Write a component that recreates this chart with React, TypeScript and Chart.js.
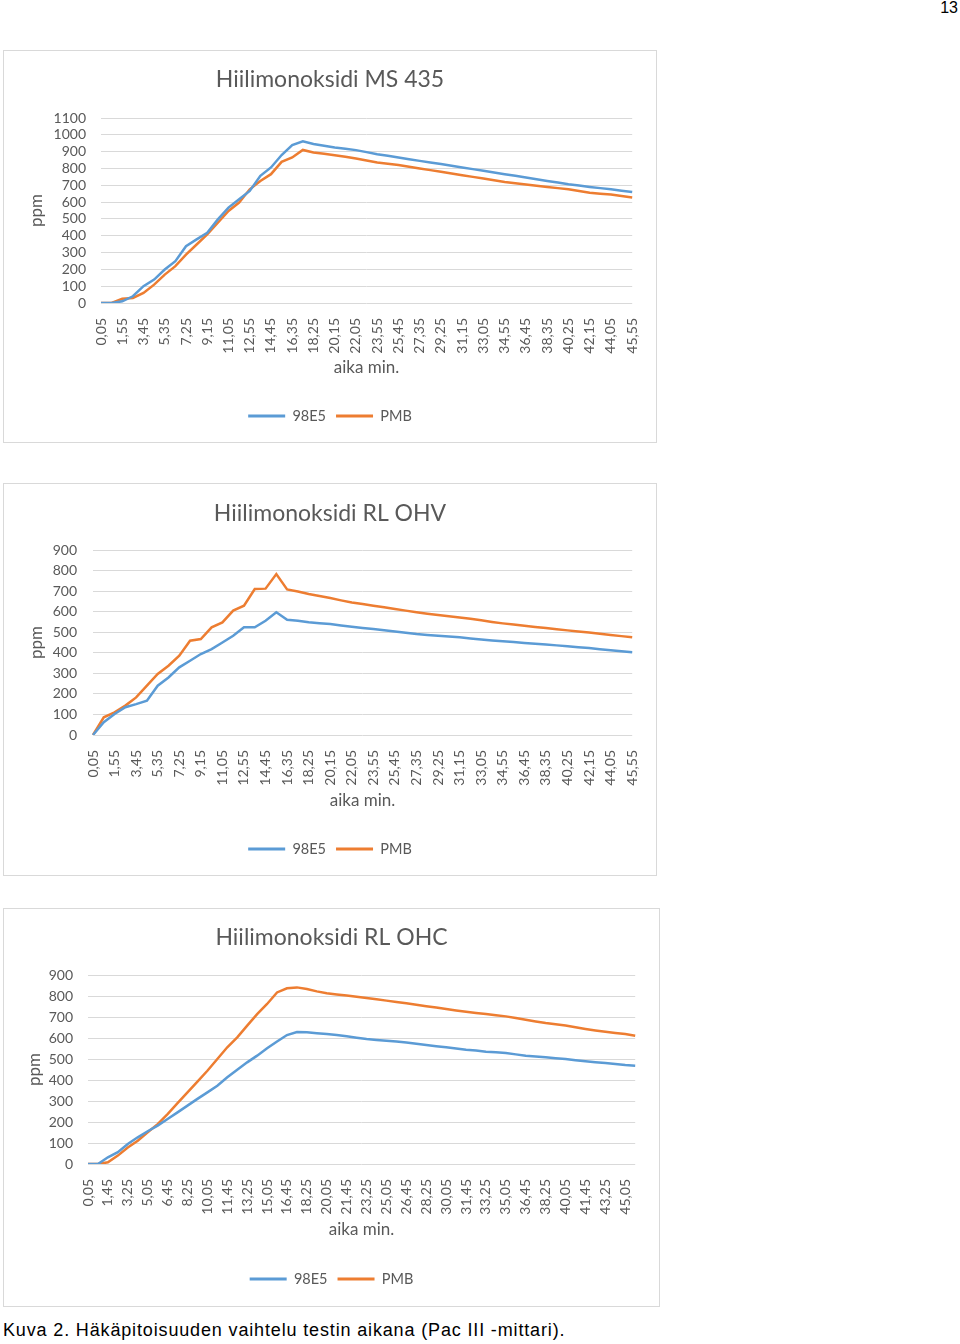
import React, { useEffect, useRef } from "react";
import { Chart, registerables } from "chart.js";

Chart.register(...registerables);

const FONT = "Lato, 'Open Sans', sans-serif";
const TEXT = "#595959";
const GRID = "#D9D9D9";
const BLUE = "#5B9BD5";
const ORANGE = "#ED7D31";
const SERIES_NAMES = ["98E5", "PMB"];
const X_TITLE = "aika min.";
const Y_TITLE = "ppm";
const PAGE_NUMBER = "13";
const CAPTION = "Kuva 2. Häkäpitoisuuden vaihtelu testin aikana (Pac III -mittari).";

// time labels (min,s), sampled every 55 s for charts 1 and 2
const timesA = [
  "0,05", "1,00", "1,55", "2,50", "3,45", "4,40", "5,35", "6,30", "7,25", "8,20",
  "9,15", "10,10", "11,05", "12,00", "12,55", "13,50", "14,45", "15,40", "16,35", "17,30",
  "18,25", "19,20", "20,15", "21,10", "22,05", "23,00", "23,55", "24,50", "25,45", "26,40",
  "27,35", "28,30", "29,25", "30,20", "31,15", "32,10", "33,05", "34,00", "34,55", "35,50",
  "36,45", "37,40", "38,35", "39,30", "40,25", "41,20", "42,15", "43,10", "44,05", "45,00",
  "45,55",
];

// time labels sampled every 50 s for chart 3
const timesC = [
  "0,05", "0,55", "1,45", "2,35", "3,25", "4,15", "5,05", "5,55", "6,45", "7,35",
  "8,25", "9,15", "10,05", "10,55", "11,45", "12,35", "13,25", "14,15", "15,05", "15,55",
  "16,45", "17,35", "18,25", "19,15", "20,05", "20,55", "21,45", "22,35", "23,25", "24,15",
  "25,05", "25,55", "26,45", "27,35", "28,25", "29,15", "30,05", "30,55", "31,45", "32,35",
  "33,25", "34,15", "35,05", "35,55", "36,45", "37,35", "38,25", "39,15", "40,05", "40,55",
  "41,45", "42,35", "43,25", "44,15", "45,05", "45,55",
];

// Hiilimonoksidi MS 435
const ms435_98E5 = [
  0, 0, 10, 40, 100, 139, 199, 249, 338, 378,
  418, 497, 567, 617, 666, 756, 806, 880, 939, 962,
  945, 935, 925, 917, 909, 897, 885, 875, 865, 855,
  845, 836, 826, 816, 806, 796, 786, 776, 766, 756,
  746, 736, 726, 716, 706, 698, 690, 683, 676, 668,
  660,
];
const ms435_PMB = [
  0, 0, 25, 30, 60, 109, 169, 219, 288, 348,
  408, 477, 547, 597, 676, 726, 766, 839, 865, 910,
  895, 887, 879, 869, 859, 847, 835, 828, 820, 810,
  800, 790, 780, 770, 760, 750, 740, 730, 720, 712,
  704, 697, 690, 683, 676, 666, 656, 650, 645, 636,
  627,
];

// Hiilimonoksidi RL OHV
const ohv_98E5 = [
  0, 62, 102, 135, 150, 167, 240, 280, 329, 361,
  394, 418, 450, 483, 524, 524, 556, 597, 561, 556,
  548, 544, 540, 533, 527, 521, 516, 510, 504, 497,
  491, 487, 483, 479, 475, 470, 465, 460, 456, 452,
  448, 444, 440, 436, 432, 427, 423, 417, 412, 407,
  402,
];
const ohv_PMB = [
  0, 86, 110, 143, 183, 240, 297, 337, 386, 459,
  467, 524, 548, 605, 629, 710, 712, 783, 708, 698,
  686, 676, 666, 655, 645, 637, 629, 621, 613, 605,
  597, 590, 584, 578, 572, 565, 558, 550, 543, 537,
  531, 525, 520, 515, 509, 504, 499, 493, 487, 481,
  475,
];

// Hiilimonoksidi RL OHC
const ohc_98E5 = [
  0, 0, 32, 56, 95, 127, 156, 183, 214, 246,
  278, 310, 341, 373, 413, 449, 484, 516, 551, 583,
  614, 628, 627, 623, 619, 614, 608, 601, 595, 591,
  587, 583, 579, 573, 567, 561, 556, 550, 544, 540,
  535, 532, 529, 522, 516, 512, 508, 504, 500, 494,
  489, 485, 481, 476, 471, 468,
];
const ohc_PMB = [
  0, 0, 8, 40, 79, 111, 151, 190, 238, 290,
  341, 392, 444, 500, 556, 603, 659, 714, 762, 817,
  837, 841, 833, 822, 813, 807, 802, 796, 790, 784,
  778, 771, 765, 758, 751, 745, 738, 731, 725, 719,
  714, 708, 703, 695, 687, 679, 671, 665, 659, 651,
  643, 636, 630, 624, 619, 611,
];

type Spec = {
  title: string;
  labels: string[];
  a: number[];
  b: number[];
  yMax: number;
  // layout in page pixels
  left: number;
  top: number;
  width: number;
  height: number;
  plotLeft: number;
  plotRight: number;
  plotTop: number;
  plotBottom: number;
  titleY: number;
  yTitleX: number;
  xTitleY: number;
  legendY: number;
  tickPad: number;
};

function LineChart({ s }: { s: Spec }) {
  const ref = useRef<HTMLCanvasElement | null>(null);
  useEffect(() => {
    if (!ref.current) return;
    const W = s.width - 2;
    const H = s.height - 2;
    const ox = s.left + 1;
    const oy = s.top + 1;
    const pl = s.plotLeft - ox;
    const pr = s.plotRight - ox;
    const pt = s.plotTop - oy;
    const pb = s.plotBottom - oy;
    const titleC = s.titleY - oy;
    const xTitleC = s.xTitleY - oy;
    const legendC = s.legendY - oy;
    const side = W - pr;
    const titleSize = 23;
    const titleLH = titleSize * 1.2;
    const legendFont = 14.5;
    const legendPad = 10;
    const legendTop = legendC - legendPad - legendFont / 2;
    const legendH = legendFont + legendPad + 10;
    const axisTitleSize = 17;
    const axisTitleLH = axisTitleSize * 1.2;

    const chart = new Chart(ref.current, {
      type: "line",
      data: {
        labels: s.labels,
        datasets: [
          {
            label: SERIES_NAMES[0],
            data: s.a,
            borderColor: BLUE,
            backgroundColor: BLUE,
            borderWidth: 2.5,
            pointRadius: 0,
            tension: 0,
          },
          {
            label: SERIES_NAMES[1],
            data: s.b,
            borderColor: ORANGE,
            backgroundColor: ORANGE,
            borderWidth: 2.5,
            pointRadius: 0,
            tension: 0,
          },
        ],
      },
      options: {
        responsive: false,
        animation: false,
        events: [],
        layout: {
          padding: {
            left: side,
            right: side,
            top: 0,
            bottom: H - (legendTop + legendH),
          },
        },
        plugins: {
          tooltip: { enabled: false },
          title: {
            display: true,
            text: s.title,
            color: TEXT,
            font: { family: FONT, size: titleSize, weight: "normal", lineHeight: 1.2 },
            padding: {
              top: titleC - titleLH / 2,
              bottom: pt - (titleC + titleLH / 2),
            },
          },
          legend: {
            display: true,
            position: "bottom",
            labels: {
              boxWidth: 37,
              boxHeight: 3,
              padding: legendPad,
              color: TEXT,
              font: { family: FONT, size: legendFont },
              generateLabels: (c: any) =>
                c.data.datasets.map((ds: any, i: number) => ({
                  text: ds.label,
                  fillStyle: ds.borderColor,
                  strokeStyle: ds.borderColor,
                  lineWidth: 0,
                  hidden: false,
                  datasetIndex: i,
                  fontColor: TEXT,
                })),
            },
          },
        },
        scales: {
          x: {
            type: "category",
            grid: { display: false },
            border: { display: false },
            ticks: {
              autoSkip: false,
              minRotation: 90,
              maxRotation: 90,
              padding: 7,
              color: TEXT,
              font: { family: FONT, size: 14 },
              callback: function (this: any, value: any, index: number) {
                return index % 2 === 0 ? this.getLabelForValue(value) : "";
              },
            },
            title: {
              display: true,
              text: X_TITLE,
              color: TEXT,
              font: { family: FONT, size: axisTitleSize, lineHeight: 1.2 },
              padding: { top: 0, bottom: legendTop - axisTitleLH / 2 - xTitleC },
            },
            afterFit: (sc: any) => {
              sc.height = legendTop - pb;
            },
          },
          y: {
            min: 0,
            max: s.yMax,
            grid: { color: GRID, lineWidth: 1, drawTicks: false },
            border: { display: false },
            ticks: {
              stepSize: 100,
              autoSkip: false,
              padding: s.tickPad,
              color: TEXT,
              font: { family: FONT, size: 14, lineHeight: 1 },
              callback: (v: any) => String(v),
            },
            title: {
              display: true,
              text: Y_TITLE,
              color: TEXT,
              font: { family: FONT, size: axisTitleSize, lineHeight: 1.2 },
              padding: { top: s.yTitleX - ox - side - axisTitleLH / 2, bottom: 0 },
            },
            afterFit: (sc: any) => {
              sc.width = pl - side;
            },
          },
        },
      },
    } as any);
    return () => chart.destroy();
  }, [s]);

  return (
    <div
      style={{
        position: "absolute",
        left: s.left,
        top: s.top,
        width: s.width,
        height: s.height,
        boxSizing: "border-box",
        border: "1px solid #D9D9D9",
        background: "#fff",
      }}
    >
      <canvas
        ref={ref}
        width={s.width - 2}
        height={s.height - 2}
        style={{ display: "block", width: s.width - 2, height: s.height - 2 }}
      />
    </div>
  );
}

const specs: Spec[] = [
  {
    title: "Hiilimonoksidi MS 435",
    labels: timesA,
    a: ms435_98E5,
    b: ms435_PMB,
    yMax: 1100,
    left: 3,
    top: 50,
    width: 654,
    height: 393,
    plotLeft: 101,
    plotRight: 636,
    plotTop: 118,
    plotBottom: 303,
    titleY: 80,
    yTitleX: 37,
    xTitleY: 368,
    legendY: 416,
    tickPad: 15,
  },
  {
    title: "Hiilimonoksidi RL OHV",
    labels: timesA,
    a: ohv_98E5,
    b: ohv_PMB,
    yMax: 900,
    left: 3,
    top: 483,
    width: 654,
    height: 393,
    plotLeft: 93,
    plotRight: 636,
    plotTop: 550,
    plotBottom: 735,
    titleY: 514,
    yTitleX: 37,
    xTitleY: 801,
    legendY: 849,
    tickPad: 16,
  },
  {
    title: "Hiilimonoksidi RL OHC",
    labels: timesC,
    a: ohc_98E5,
    b: ohc_PMB,
    yMax: 900,
    left: 3,
    top: 908,
    width: 657,
    height: 399,
    plotLeft: 88,
    plotRight: 640,
    plotTop: 975,
    plotBottom: 1164,
    titleY: 938,
    yTitleX: 35,
    xTitleY: 1230,
    legendY: 1279,
    tickPad: 15,
  },
];

export default function App() {
  return (
    <div
      style={{
        position: "absolute",
        left: 0,
        top: 0,
        width: 960,
        height: 1344,
        background: "#fff",
        overflow: "hidden",
      }}
    >
      <div
        style={{
          position: "absolute",
          right: 2,
          top: -1,
          fontFamily: "'Liberation Sans', Arial, sans-serif",
          fontSize: 16,
          color: "#000",
        }}
      >
        {PAGE_NUMBER}
      </div>
      {specs.map((s, i) => (
        <LineChart key={i} s={s} />
      ))}
      <div
        style={{
          position: "absolute",
          left: 3,
          top: 1320,
          fontFamily: "'Liberation Sans', Arial, sans-serif",
          fontSize: 18,
          letterSpacing: 0.85,
          color: "#000",
          whiteSpace: "nowrap",
        }}
      >
        {CAPTION}
      </div>
    </div>
  );
}
